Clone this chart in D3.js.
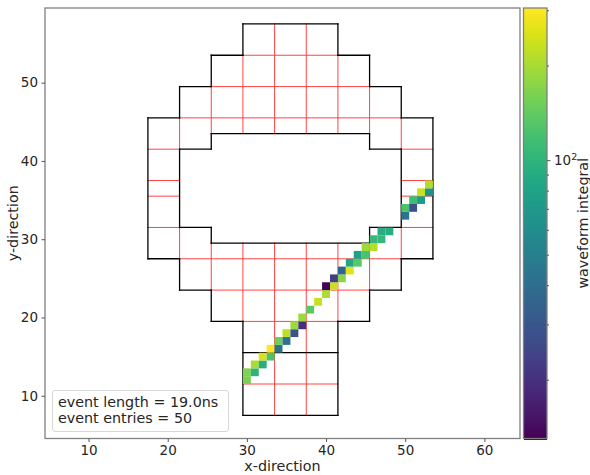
<html>
<head>
<script src="https://d3js.org/d3.v7.min.js"></script>
<style>
	body { margin: 0; background: white; }
	text { font-family: "DejaVu Sans", sans-serif; fill: #262626; }
</style>
</head>
<body>
<script>
	var width = 590, height = 475;

	// hit channels
	var cellX = [30,30,31,31,32,32,33,33,34,34,35,35,36,36,37,37,38,39,40,40,41,41,42,42,43,43,44,44,45,45,46,46,47,47,48,50,50,51,51,52,52,53,53];
	var cellY = [12,13,13,14,14,15,15,16,16,17,17,18,18,19,19,20,21,22,23,24,24,25,25,26,26,27,27,28,28,29,29,30,30,31,31,33,34,34,35,35,36,36,37];
	var cellValue = [160,165,100,205,95,255,125,305,42,150,42,222,30,190,20,190,138,235,205,13.2,235,24,175,36,260,85,135,78,125,190,215,108,108,93,93,43,125,28,115,72,235,65,210];

	// detector outline, each row is x1,y1,x2,y2
	var blackSegments = [
		[29.5,57.5,41.5,57.5],[41.5,57.5,41.5,53.5],[41.5,53.5,45.5,53.5],[45.5,53.5,45.5,49.5],
		[45.5,49.5,49.5,49.5],[49.5,49.5,49.5,45.5],[49.5,45.5,53.5,45.5],[53.5,45.5,53.5,27.5],
		[53.5,27.5,49.5,27.5],[49.5,27.5,49.5,23.5],[49.5,23.5,45.5,23.5],[45.5,23.5,45.5,19.5],
		[45.5,19.5,41.5,19.5],[41.5,19.5,41.5,7.5],[41.5,7.5,29.5,7.5],[29.5,7.5,29.5,19.5],
		[29.5,19.5,25.5,19.5],[25.5,19.5,25.5,23.5],[25.5,23.5,21.5,23.5],[21.5,23.5,21.5,27.5],
		[21.5,27.5,17.5,27.5],[17.5,27.5,17.5,45.5],[17.5,45.5,21.5,45.5],[21.5,45.5,21.5,49.5],
		[21.5,49.5,25.5,49.5],[25.5,49.5,25.5,53.5],[25.5,53.5,29.5,53.5],[29.5,53.5,29.5,57.5],
		[21.5,41.5,25.5,41.5],[25.5,41.5,25.5,43.5],[25.5,43.5,45.5,43.5],[45.5,43.5,45.5,41.5],
		[45.5,41.5,49.5,41.5],[49.5,41.5,49.5,31.5],[49.5,31.5,45.5,31.5],[45.5,31.5,45.5,29.5],
		[45.5,29.5,25.5,29.5],[25.5,29.5,25.5,31.5],[25.5,31.5,21.5,31.5],[21.5,31.5,21.5,41.5],
		[29.5,15.5,41.5,15.5]
	];

	// module borders
	var redSegments = [
		[21.5,45.5,21.5,41.5],[21.5,31.5,21.5,27.5],[25.5,49.5,25.5,43.5],[25.5,29.5,25.5,23.5],
		[29.5,53.5,29.5,43.5],[29.5,29.5,29.5,19.5],[33.5,57.5,33.5,43.5],[33.5,29.5,33.5,7.5],
		[37.5,57.5,37.5,43.5],[37.5,29.5,37.5,7.5],[41.5,53.5,41.5,43.5],[41.5,29.5,41.5,19.5],
		[45.5,49.5,45.5,43.5],[45.5,29.5,45.5,23.5],[49.5,45.5,49.5,41.5],[49.5,31.5,49.5,27.5],
		[29.5,53.5,41.5,53.5],[25.5,49.5,45.5,49.5],[21.5,45.5,49.5,45.5],[17.5,41.5,21.5,41.5],
		[49.5,41.5,53.5,41.5],[17.5,37.5,21.5,37.5],[49.5,37.5,53.5,37.5],[17.5,35.5,21.5,35.5],
		[49.5,35.5,53.5,35.5],[17.5,31.5,21.5,31.5],[49.5,31.5,53.5,31.5],[21.5,27.5,49.5,27.5],
		[25.5,23.5,45.5,23.5],[29.5,19.5,41.5,19.5],[29.5,11.5,41.5,11.5]
	];

	var xTicks = [10,20,30,40,50,60];
	var yTicks = [10,20,30,40,50];
	var colorMajorTicks = [100];
	var colorMinorTicks = [20,30,40,50,60,70,80,90,200,300];
	var infoLines = ["event length = 19.0ns", "event entries = 50"];

	var left = 45, right = 520, top_ = 8, bottom = 438.5;
	var barLeft = 523.5, barRight = 547;

	var x = d3.scaleLinear().domain([4.5,64.5]).range([left,right]);
	var y = d3.scaleLinear().domain([4.5,59.5]).range([bottom+0.3,top_+0.3]);
	var colorPos = d3.scaleLog().domain([13,305]).range([bottom,top_]);
	var color = d3.scaleSequentialLog(d3.interpolateViridis).domain([13,305]);

	var svg = d3.select("body").append("svg")
		.attr("width",width)
		.attr("height",height)
		.style("display","block");

	function drawSegments(data,stroke,lw){
		svg.append("g").selectAll("line")
			.data(data)
			.enter()
			.append("line")
			.attr("x1",function(d){ return x(d[0]); })
			.attr("y1",function(d){ return y(d[1]); })
			.attr("x2",function(d){ return x(d[2]); })
			.attr("y2",function(d){ return y(d[3]); })
			.attr("stroke",stroke)
			.attr("stroke-width",lw)
			.attr("stroke-linecap","square");
	}

	drawSegments(redSegments,"#ff3030",0.9);
	drawSegments(blackSegments,"black",1.3);

	svg.append("g").selectAll("rect")
		.data(cellValue)
		.enter()
		.append("rect")
		.attr("x",function(d,i){ return x(cellX[i]-0.5); })
		.attr("y",function(d,i){ return y(cellY[i]+0.5); })
		.attr("width",x(1)-x(0))
		.attr("height",y(0)-y(1))
		.attr("fill",function(d){ return color(d); });

	// spines
	svg.append("rect")
		.attr("x",left).attr("y",top_)
		.attr("width",right-left).attr("height",bottom-top_)
		.attr("fill","none").attr("stroke","#808080").attr("stroke-width",1.3);

	var xAxis = svg.append("g")
		.attr("transform","translate(0,"+bottom+")")
		.call(d3.axisBottom(x).tickValues(xTicks).tickSize(3.5).tickPadding(3.5));
	var yAxis = svg.append("g")
		.attr("transform","translate("+left+",0)")
		.call(d3.axisLeft(y).tickValues(yTicks).tickSize(3.5).tickPadding(3.5));
	[xAxis,yAxis].forEach(function(a){
		a.select(".domain").remove();
		a.selectAll("line").attr("stroke","#555");
		a.selectAll("text").style("font-size","13.5px").style("font-family","DejaVu Sans");
	});

	svg.append("text")
		.attr("x",(left+right)/2)
		.attr("y",471)
		.attr("text-anchor","middle")
		.style("font-size","14.3px")
		.text("x-direction");
	svg.append("text")
		.attr("transform","translate(18,"+(top_+bottom)/2+") rotate(-90)")
		.attr("text-anchor","middle")
		.style("font-size","14.3px")
		.text("y-direction");

	// text box
	svg.append("rect")
		.attr("x",52.5).attr("y",390.5)
		.attr("width",176).attr("height",41)
		.attr("rx",2.5)
		.attr("fill","white")
		.attr("stroke","#d8d8d8");
	svg.append("g").selectAll("text")
		.data(infoLines)
		.enter()
		.append("text")
		.attr("x",58)
		.attr("y",function(d,i){ return 407+i*16; })
		.style("font-size","14.3px")
		.text(function(d){ return d; });

	// colorbar
	var barSteps = d3.range(0,256);
	svg.append("g").selectAll("rect")
		.data(barSteps)
		.enter()
		.append("rect")
		.attr("x",barLeft)
		.attr("width",barRight-barLeft)
		.attr("y",function(d){ return top_+(bottom-top_)*(255-d)/256; })
		.attr("height",(bottom-top_)/256+1)
		.attr("shape-rendering","crispEdges")
		.attr("fill",function(d){ return d3.interpolateViridis(d/255); });
	svg.append("rect")
		.attr("x",barLeft).attr("y",top_)
		.attr("width",barRight-barLeft).attr("height",bottom-top_)
		.attr("fill","none").attr("stroke","#808080").attr("stroke-width",1.3);

	var minorAxis = svg.append("g")
		.attr("transform","translate("+barRight+",0)")
		.call(d3.axisRight(colorPos).tickValues(colorMinorTicks).tickSize(2).tickFormat(""));
	minorAxis.select(".domain").remove();
	minorAxis.selectAll("line").attr("stroke","#555");

	var majorAxis = svg.append("g")
		.attr("transform","translate("+barRight+",0)")
		.call(d3.axisRight(colorPos).tickValues(colorMajorTicks).tickSize(3.5).tickFormat(""));
	majorAxis.select(".domain").remove();
	majorAxis.selectAll("line").attr("stroke","#555");

	var label = svg.append("text")
		.attr("x",554)
		.attr("y",colorPos(100)+5)
		.style("font-size","13.5px");
	label.append("tspan").text("10");
	label.append("tspan").attr("dy",-5).style("font-size","9.5px").text("2");

	svg.append("text")
		.attr("transform","translate(588,"+(top_+bottom)/2+") rotate(-90)")
		.attr("text-anchor","middle")
		.style("font-size","14.3px")
		.text("waveform integral");
</script>
</body>
</html>
